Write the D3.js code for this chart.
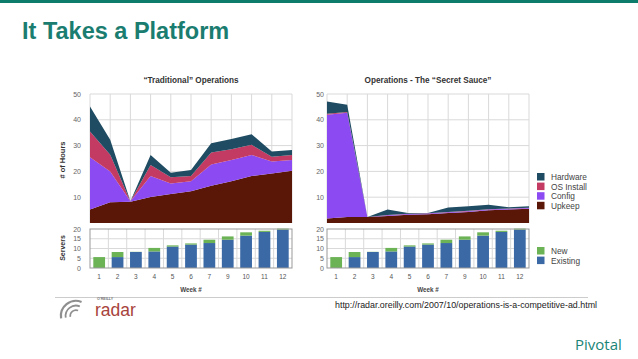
<!DOCTYPE html>
<html><head><meta charset="utf-8">
<script src="https://cdn.jsdelivr.net/npm/d3@7"></script>
<style>html,body{margin:0;padding:0;background:#fff;}svg{display:block;font-family:"Liberation Sans",Arial,sans-serif;}</style>
</head><body>
<svg id="c" width="638" height="359"></svg>
<script>
// ---- data ----
const weeks = ["1","2","3","4","5","6","7","9","10","11","12"];
const seriesKeys = ["Upkeep","Config","OS Install","Hardware"];
const tradUpkeep   = [5.2, 8.0, 8.2, 10.1, 11.2, 12.3, 14.4, 16.2, 18.2, 19.2, 20.3];
const tradConfig   = [20.3, 12.0, 0.2, 8.1, 4.1, 3.9, 8.3, 8.2, 8.2, 4.6, 4.1];
const tradOS       = [10.0, 6.5, 0.0, 4.3, 2.4, 2.0, 4.6, 4.2, 3.9, 1.9, 2.0];
const tradHardware = [9.7, 5.8, 0.0, 3.9, 1.8, 2.3, 3.6, 4.0, 4.1, 2.0, 1.9];
const sauceUpkeep   = [1.7, 2.3, 2.3, 2.7, 3.2, 3.4, 3.9, 4.3, 4.9, 5.2, 5.5];
const sauceConfig   = [40.3, 40.4, 0.0, 0.3, 0.3, 0.3, 0.3, 0.3, 0.3, 0.3, 0.3];
const sauceOS       = [0.3, 0.3, 0.0, 0.1, 0.1, 0.1, 0.1, 0.1, 0.1, 0.1, 0.1];
const sauceHardware = [4.8, 2.8, 0.0, 2.1, 0.3, 0.1, 1.7, 1.8, 1.8, 0.5, 0.6];
const serversExisting = [0, 5.6, 8.2, 8.5, 11.0, 12.0, 12.8, 14.5, 16.6, 18.5, 19.7];
const serversNew      = [5.6, 2.6, 0.1, 1.8, 0.6, 0.6, 1.7, 1.7, 1.7, 0.6, 0.5];
const hourTicks = [10, 20, 30, 40, 50];
const serverTicks = [0, 5, 10, 15, 20];
const legendHours = ["Hardware","OS Install","Config","Upkeep"];
const legendServers = ["New","Existing"];
const chartTitles = ["\u201CTraditional\u201D Operations", "Operations - The \u201CSecret Sauce\u201D"];

const colors = {"Hardware":"#1f4c62","OS Install":"#c33a62","Config":"#8c4af2","Upkeep":"#5a1707","New":"#6cb356","Existing":"#3a69a6"};

const svg = d3.select("#c");

// Header
svg.append("rect").attr("x",0).attr("y",0).attr("width",638).attr("height",3).attr("fill","#0e7c6b");
svg.append("text").attr("x",22).attr("y",39).attr("font-size",23.5).attr("font-weight","bold")
  .attr("fill","#1a7d70").text("It Takes a Platform");

function buildRows(u,c,o,h){ return weeks.map((w,i)=>({week:w,"Upkeep":u[i],"Config":c[i],"OS Install":o[i],"Hardware":h[i]})); }

const panels = [
  {title:chartTitles[0], rows:buildRows(tradUpkeep,tradConfig,tradOS,tradHardware), x0:90, x1:292, tickEnd:81, showAxisTitle:true},
  {title:chartTitles[1], rows:buildRows(sauceUpkeep,sauceConfig,sauceOS,sauceHardware), x0:327, x1:529, tickEnd:324, showAxisTitle:false}
];

const stack = d3.stack().keys(seriesKeys);
const barRows = weeks.map((w,i)=>({week:w,"Existing":serversExisting[i],"New":serversNew[i]}));
const barStack = d3.stack().keys(["Existing","New"])(barRows);

panels.forEach(p=>{
  const g = svg.append("g");
  const x = d3.scalePoint().domain(weeks).range([p.x0,p.x1]);
  const y = d3.scaleLinear().domain([0,50]).range([223,94]);
  // title
  g.append("text").attr("x",(p.x0+p.x1)/2).attr("y",83).attr("text-anchor","middle")
    .attr("font-size",8.2).attr("font-weight","bold").attr("fill","#333").text(p.title);
  // grid
  g.append("g").selectAll("line.h").data(hourTicks).join("line")
    .attr("x1",p.x0).attr("x2",p.x1).attr("y1",d=>y(d)).attr("y2",d=>y(d))
    .attr("stroke","#d9d9d9").attr("stroke-width",1);
  g.append("g").selectAll("line.v").data(weeks).join("line")
    .attr("x1",d=>x(d)).attr("x2",d=>x(d)).attr("y1",y(50)).attr("y2",y(0))
    .attr("stroke","#d9d9d9").attr("stroke-width",1);
  // areas
  const area = d3.area().x(d=>x(d.data.week)).y0(d=>y(d[0])).y1(d=>y(d[1]));
  g.append("g").selectAll("path").data(stack(p.rows)).join("path")
    .attr("d",area).attr("fill",d=>colors[d.key]);
  // y tick labels
  g.append("g").selectAll("text").data(hourTicks).join("text")
    .attr("x",p.tickEnd).attr("y",d=>y(d)+2.5).attr("text-anchor","end")
    .attr("font-size",7).attr("fill","#666").text(d=>d);

  // bar chart
  const xb = d3.scaleBand().domain(weeks).range([p.x0,p.x1]).paddingInner(0.36).paddingOuter(0.18);
  const xbGrid = d3.scaleBand().domain(weeks).range([p.x0,p.x1]);
  const yb = d3.scaleLinear().domain([0,20]).range([268,229]);
  const bg = svg.append("g");
  bg.append("g").selectAll("line").data([5,10,15]).join("line")
    .attr("x1",p.x0).attr("x2",p.x1).attr("y1",d=>yb(d)).attr("y2",d=>yb(d))
    .attr("stroke","#d9d9d9");
  bg.append("g").selectAll("line").data(weeks.slice(1)).join("line")
    .attr("x1",d=>xbGrid(d)).attr("x2",d=>xbGrid(d)).attr("y1",yb(20)).attr("y2",yb(0))
    .attr("stroke","#d9d9d9");
  bg.append("g").selectAll("g").data(barStack).join("g").attr("fill",d=>colors[d.key])
    .selectAll("rect").data(d=>d).join("rect")
    .attr("x",d=>xb(d.data.week)).attr("width",xb.bandwidth())
    .attr("y",d=>yb(d[1])).attr("height",d=>Math.max(0,yb(d[0])-yb(d[1])));
  bg.append("rect").attr("x",p.x0).attr("y",yb(20)).attr("width",p.x1-p.x0).attr("height",yb(0)-yb(20))
    .attr("fill","none").attr("stroke","#999").attr("stroke-width",1);
  bg.append("g").selectAll("text").data(serverTicks).join("text")
    .attr("x",p.tickEnd).attr("y",d=>yb(d)+2.5).attr("text-anchor","end")
    .attr("font-size",7).attr("fill","#666").text(d=>d);
  bg.append("g").selectAll("text").data(weeks).join("text")
    .attr("x",d=>xb(d)+xb.bandwidth()/2).attr("y",279).attr("text-anchor","middle")
    .attr("font-size",6.5).attr("fill","#555").text(d=>d);
  bg.append("text").attr("x",(p.x0+p.x1)/2).attr("y",292).attr("text-anchor","middle")
    .attr("font-size",6.3).attr("font-weight","bold").attr("fill","#444").text("Week #");

  if(p.showAxisTitle){
    svg.append("text").attr("transform","translate(65,160) rotate(-90)").attr("text-anchor","middle")
      .attr("font-size",7.5).attr("font-weight","bold").attr("fill","#333").text("# of Hours");
    svg.append("text").attr("transform","translate(65,248) rotate(-90)").attr("text-anchor","middle")
      .attr("font-size",7).attr("font-weight","bold").attr("fill","#333").text("Servers");
  }
});

// legends
const lg = svg.append("g");
lg.selectAll("rect").data(legendHours).join("rect")
  .attr("x",537).attr("y",(d,i)=>173+i*9.6).attr("width",7.5).attr("height",7.5).attr("fill",d=>colors[d]);
lg.selectAll("text").data(legendHours).join("text")
  .attr("x",551).attr("y",(d,i)=>180+i*9.6).attr("font-size",8.3).attr("fill","#444").text(d=>d);
const lg2 = svg.append("g");
lg2.selectAll("rect").data(legendServers).join("rect")
  .attr("x",537).attr("y",(d,i)=>247+i*9.6).attr("width",7.5).attr("height",7.5).attr("fill",d=>colors[d]);
lg2.selectAll("text").data(legendServers).join("text")
  .attr("x",551).attr("y",(d,i)=>254+i*9.6).attr("font-size",8.3).attr("fill","#444").text(d=>d);

// footer
svg.append("line").attr("x1",55).attr("x2",588).attr("y1",297.5).attr("y2",297.5).attr("stroke","#ccc").attr("stroke-width",1.2);
[[14,2.2],[9.5,1.8],[5,1.6]].forEach(([r,w])=>{
  const arc = d3.arc().innerRadius(r).outerRadius(r+w).startAngle(-Math.PI*0.55).endAngle(Math.PI*0.12);
  svg.append("path").attr("d",arc()).attr("transform","translate(76,316)").attr("fill","#8f8f8f");
});
svg.append("text").attr("x",97).attr("y",299.5).attr("font-size",3.6).attr("fill","#777").attr("font-weight","bold").text("O'REILLY");
svg.append("text").attr("x",95).attr("y",316).attr("font-size",17.5).attr("fill","#a8433b").text("radar");
svg.append("text").attr("x",335).attr("y",308).attr("font-size",8.2).attr("fill","#222")
  .attr("textLength",262).attr("lengthAdjust","spacingAndGlyphs")
  .text("http://radar.oreilly.com/2007/10/operations-is-a-competitive-ad.html");
svg.append("text").attr("x",575).attr("y",350).attr("font-size",15).attr("fill","#1a8577")
  .attr("font-family","'Open Sans',sans-serif").text("Pivotal");
</script>
</body></html>
